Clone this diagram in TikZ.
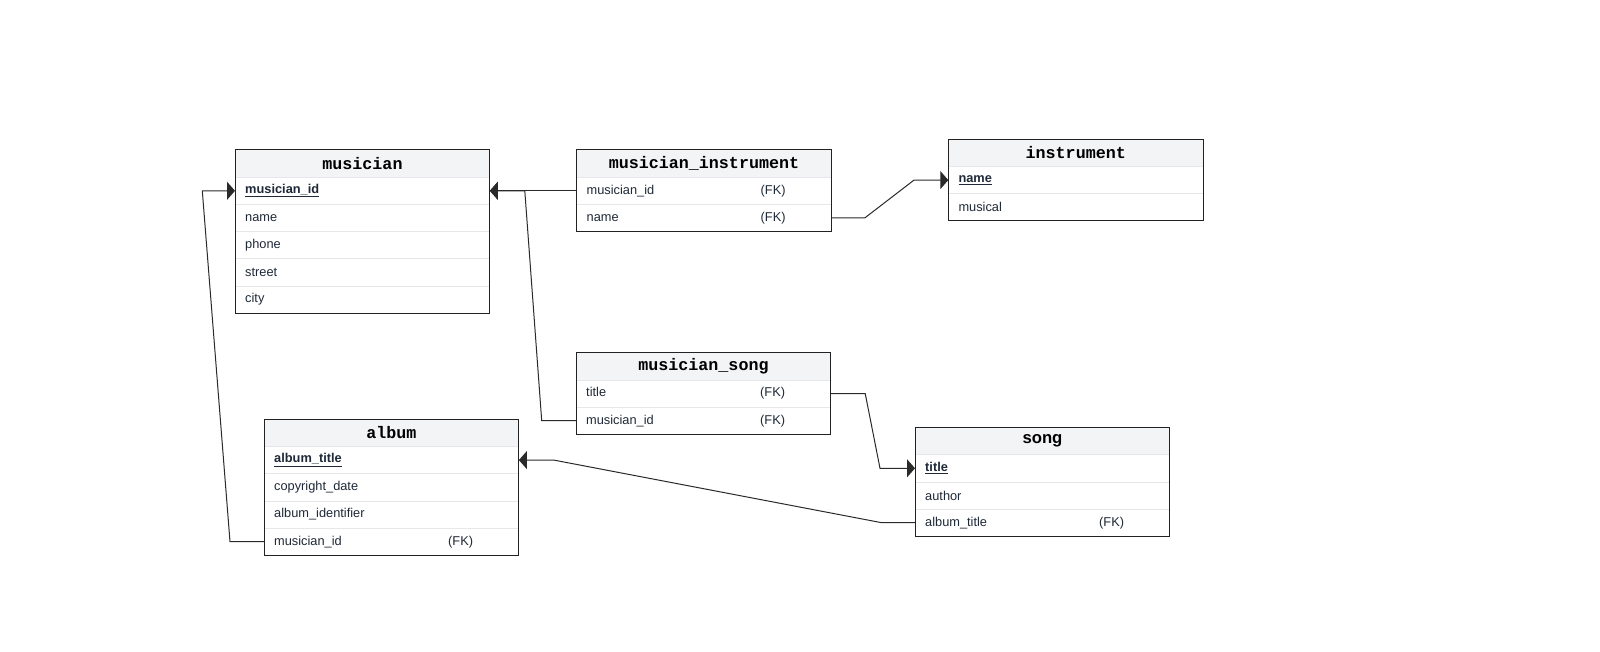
\documentclass[tikz,border=0pt]{standalone}
\usepackage{fontspec}
\setmainfont{Liberation Sans}
\newfontfamily\titlemono{Liberation Mono}
\usetikzlibrary{arrows.meta,positioning}
\definecolor{headGray}{HTML}{F3F4F6}
\definecolor{sepGray}{HTML}{E5E7EB}
\definecolor{frameDark}{HTML}{222222}
\definecolor{rowText}{HTML}{1F2937}
\definecolor{linkDark}{HTML}{2A2A2A}

\newcommand{\pkey}[1]{\underline{\textbf{#1}}}
\newcommand{\fkey}[1]{\makebox[174pt][l]{#1}(FK)}

\begin{document}
\begin{tikzpicture}[
      x=1pt, y=-1pt,
      tblhead/.style={
        rectangle, fill=headGray, anchor=north west, inner sep=0pt,
        minimum width=254.5pt, minimum height=26.8pt,
        font=\titlemono\fontsize{16.7pt}{18pt}\selectfont\bfseries
      },
      tblrow/.style={
        rectangle, minimum height=26.8pt, text width=234.5pt,
        inner xsep=10pt, inner ysep=0pt, align=left, text=rowText,
        font=\fontsize{12.8pt}{14pt}\selectfont
      },
      sepline/.style={draw=sepGray, line width=0.8pt},
      tblframe/.style={draw=frameDark, line width=1pt},
      fklink/.style={-{Triangle[length=8pt,width=18pt]}, draw=linkDark, line width=1pt}
    ]
      \fill[white] (0,0) rectangle (1600,652);
      \useasboundingbox (0,0) rectangle (1600,652);

      % musician
      \node[tblhead] (mu-0) at (235,150) {musician};
      \node[tblrow, below=0pt of mu-0] (mu-1) {\pkey{musician\_id}};
      \node[tblrow, below=0pt of mu-1] (mu-2) {name};
      \node[tblrow, below=0pt of mu-2] (mu-3) {phone};
      \node[tblrow, below=0pt of mu-3] (mu-4) {street};
      \node[tblrow, below=0pt of mu-4] (mu-5) {city};

      % musician_instrument
      \node[tblhead] (mi-0) at (576.5,150) {musician\_instrument};
      \node[tblrow, below=0pt of mi-0] (mi-1) {\fkey{musician\_id}};
      \node[tblrow, below=0pt of mi-1] (mi-2) {\fkey{name}};

      % instrument
      \node[tblhead] (in-0) at (948.3,139.3) {instrument};
      \node[tblrow, below=0pt of in-0] (in-1) {\pkey{name}};
      \node[tblrow, below=0pt of in-1] (in-2) {musical};

      % musician_song
      \node[tblhead] (ms-0) at (576,352.7) {musician\_song};
      \node[tblrow, below=0pt of ms-0] (ms-1) {\fkey{title}};
      \node[tblrow, below=0pt of ms-1] (ms-2) {\fkey{musician\_id}};

      % album
      \node[tblhead] (al-0) at (264,419.3) {album};
      \node[tblrow, below=0pt of al-0] (al-1) {\pkey{album\_title}};
      \node[tblrow, below=0pt of al-1] (al-2) {copyright\_date};
      \node[tblrow, below=0pt of al-2] (al-3) {album\_identifier};
      \node[tblrow, below=0pt of al-3] (al-4) {\fkey{musician\_id}};

      % song
      \node[tblhead, font=\fontsize{16.7pt}{18pt}\selectfont\bfseries] (so-0) at (915,427.5) {song};
      \node[tblrow, below=0pt of so-0] (so-1) {\pkey{title}};
      \node[tblrow, below=0pt of so-1] (so-2) {author};
      \node[tblrow, below=0pt of so-2] (so-3) {\fkey{album\_title}};

      % row rules and frames
      \foreach \r in {mu-1,mu-2,mu-3,mu-4,mu-5,mi-1,mi-2,in-1,in-2,ms-1,ms-2,al-1,al-2,al-3,al-4,so-1,so-2,so-3}
        \draw[sepline] (\r.north west) -- (\r.north east);
      \foreach \t/\n in {mu/5,mi/2,in/2,ms/2,al/4,so/3}
        \draw[tblframe] (\t-0.north west) rectangle (\t-\n.south east);

      % foreign keys
      \draw[fklink] (mi-1.west) -- ++(-51.7,0) coordinate (jmu) -- (mu-1.east);
      \draw[fklink] (ms-2.west) -- ++(-34.3,0) -- (jmu) -- (mu-1.east);
      \draw[fklink] (mi-2.east) -- ++(33.3,0) -- ([xshift=-34.3pt]in-1.west) -- (in-1.west);
      \draw[fklink] (ms-1.east) -- ++(34.3,0) -- ([xshift=-35pt]so-1.west) -- (so-1.west);
      \draw[fklink] (so-3.west) -- ++(-33.3,0) -- ([xshift=35pt]al-1.east) -- (al-1.east);
      \draw[fklink] (al-4.west) -- ++(-34,0) -- ([xshift=-32.7pt]mu-1.west) -- (mu-1.west);
    \end{tikzpicture}
\end{document}
